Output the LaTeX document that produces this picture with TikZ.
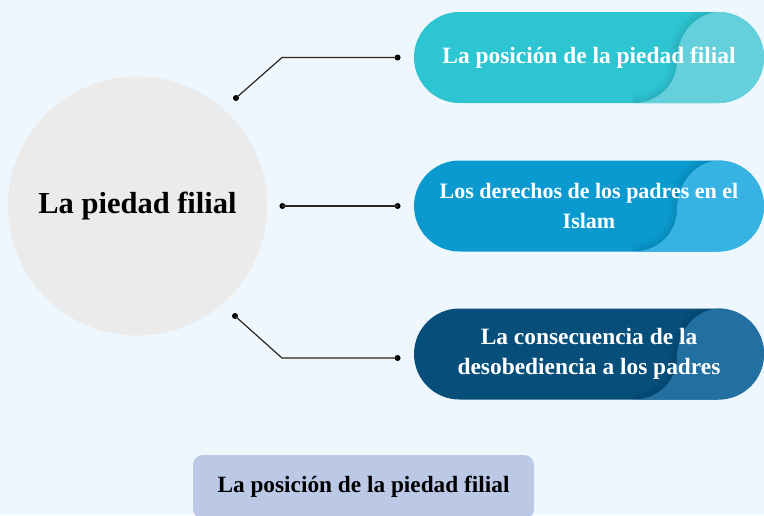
\documentclass[tikz,border=0pt]{standalone}
\usepackage{fontspec}
\setmainfont{Liberation Serif}
\usetikzlibrary{positioning}
\definecolor{bgblue}{HTML}{EEF7FD}
\definecolor{hubgray}{HTML}{EBEBEB}
\definecolor{tealbase}{HTML}{2EC5D3}
\definecolor{teallight}{HTML}{63D0DB}
\definecolor{skybase}{HTML}{0A9AD0}
\definecolor{skylight}{HTML}{37B3E3}
\definecolor{navybase}{HTML}{064F7B}
\definecolor{navylight}{HTML}{2270A1}
\definecolor{tablilac}{HTML}{BBC8E6}
\definecolor{linkbrown}{HTML}{2B2520}
\newcommand{\wavecurve}{([xshift=-47pt]path picture bounding box.north east)
    .. controls +(-22pt,-2pt) and +(0pt,25pt) ..
    ([xshift=-87pt,yshift=-48pt]path picture bounding box.north east)
    .. controls +(0pt,-25pt) and +(25pt,0pt) ..
    ([xshift=-131pt]path picture bounding box.south east)}

\begin{document}
\begin{tikzpicture}[x=1pt,y=-1pt]
\tikzset{
    hub/.style = {circle, fill=hubgray, minimum size=259pt, inner sep=0pt,
        font=\bfseries\fontsize{30.5}{36}\selectfont},
    pill/.style 2 args = {rectangle, rounded corners=45.5pt, minimum width=350pt,
        minimum height=91pt, inner sep=0pt, fill=#1, text=white, align=center,
        font=\bfseries\fontsize{23.4}{30}\selectfont,
        path picture={
            \foreach \w in {4,10,16}
                \draw[sharp corners, fill=none, line width=\w pt, black, opacity=.03] \wavecurve;
            \fill[sharp corners, draw=none, #2] \wavecurve
                -- (path picture bounding box.south east)
                -- (path picture bounding box.north east) -- cycle;
        }},
    tab/.style = {rectangle, rounded corners=10pt, fill=tablilac, minimum width=341pt,
        minimum height=64pt, font=\bfseries\fontsize{23.3}{28}\selectfont},
    dot/.style = {circle, fill=black, inner sep=0pt, minimum size=6pt},
    link/.style = {draw=linkbrown, line width=1.2pt}
}

% -------------------------------------------------------
\useasboundingbox (0,0) rectangle (764,515);
\fill[bgblue] (0,0) rectangle (764,515);

\node[hub] (piedad) at (137.5,206) {La piedad filial};

\node[pill={tealbase}{teallight}] (posicion) at (589,57.5) {La posición de la piedad filial};
\node[pill={skybase}{skylight}, font=\bfseries\fontsize{22}{30}\selectfont] (derechos) at (589,206)
    {Los derechos de los padres en el\\Islam};
\node[pill={navybase}{navylight}] (consec) at (589,354) {La consecuencia de la\\desobediencia a los padres};

\node[tab] (etiqueta) at (363.5,487) {La posición de la piedad filial};

% -------------------------------------------------------
\node[dot] (piedad-a) at (236,98) {};
\node[dot, right=12pt of piedad] (piedad-b) {};
\node[dot] (piedad-c) at (235,316) {};

\node[dot, left=13pt of posicion] (posicion-in) {};
\node[dot, left=13pt of derechos] (derechos-in) {};
\node[dot, left=13pt of consec, yshift=-4pt] (consec-in) {};

\coordinate (codo-a) at (282,57.5);
\coordinate (codo-c) at (282,358);

\draw[link] (piedad-a.center) -- (codo-a) -- (posicion-in.center);
\draw[link] (piedad-b.center) -- (derechos-in.center);
\draw[link] (piedad-c.center) -- (codo-c) -- (consec-in.center);
\end{tikzpicture}
\end{document}
